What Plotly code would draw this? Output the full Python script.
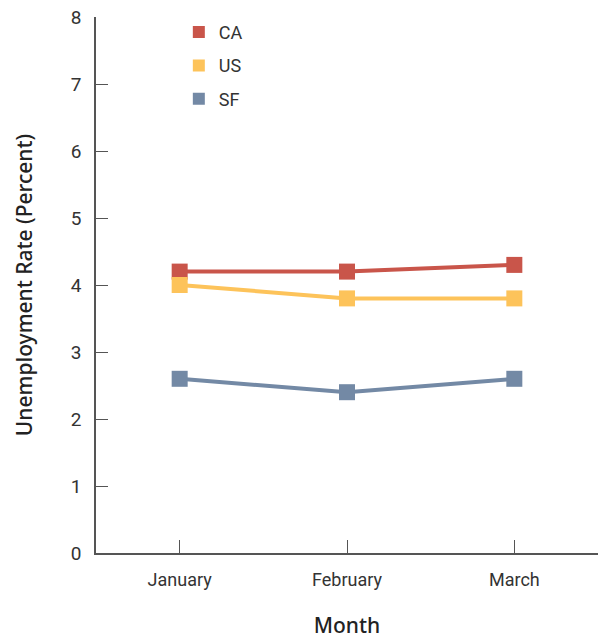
import plotly.graph_objects as go

months = ["January", "February", "March"]
series_names = ["CA", "US", "SF"]
ca_values = [4.2, 4.2, 4.3]
us_values = [4.0, 3.8, 3.8]
sf_values = [2.6, 2.4, 2.6]
colors = ["#C9554A", "#FDC35A", "#7389A5"]
y_ticks = [0, 1, 2, 3, 4, 5, 6, 7, 8]

fig = go.Figure()
for name, vals, col in zip(series_names, [ca_values, us_values, sf_values], colors):
    fig.add_trace(go.Scatter(
        x=months, y=vals, mode="lines+markers", name=name,
        line=dict(color=col, width=4),
        marker=dict(symbol="square", size=16, color=col),
        showlegend=False,
    ))
for name, col in zip(series_names, colors):
    fig.add_trace(go.Scatter(
        x=[None], y=[None], mode="markers", name=name, legendgroup=name,
        marker=dict(symbol="square", size=16, color=col),
    ))

fig.update_layout(
    width=598, height=639,
    margin=dict(l=96, r=0, t=17, b=86),
    plot_bgcolor="white", paper_bgcolor="white",
    font=dict(family="Roboto", color="#333333", size=18),
    legend=dict(x=0.165, y=1.006, xanchor="left", yanchor="top",
                font=dict(size=18, color="#333333"),
                itemsizing="constant", tracegroupgap=7, itemwidth=30,
                bgcolor="rgba(0,0,0,0)"),
    xaxis=dict(
        type="category", range=[-0.5, 2.5], automargin=False,
        showline=True, linecolor="#555555", linewidth=1.5,
        ticks="inside", ticklen=13, tickcolor="#555555", tickwidth=1,
        showgrid=False, zeroline=False, ticklabelstandoff=10,
        title=dict(text="Month", font=dict(family="Noto Sans", size=21, color="#222222", weight=500), standoff=29),
        tickfont=dict(size=18, color="#333333"),
    ),
    yaxis=dict(
        range=[0, 8], tickvals=y_ticks, automargin=False,
        showline=True, linecolor="#555555", linewidth=1.5,
        ticks="inside", ticklen=12, tickcolor="#555555", tickwidth=1,
        showgrid=False, zeroline=False, ticklabelstandoff=9,
        title=dict(text="Unemployment Rate (Percent)", font=dict(family="Noto Sans", size=21, color="#222222", weight=500), standoff=32),
        tickfont=dict(size=19, color="#333333"),
    ),
)
fig.write_html("out.html", config={"displayModeBar": False},
               post_script="document.body.style.margin='0';document.body.style.padding='0';")
